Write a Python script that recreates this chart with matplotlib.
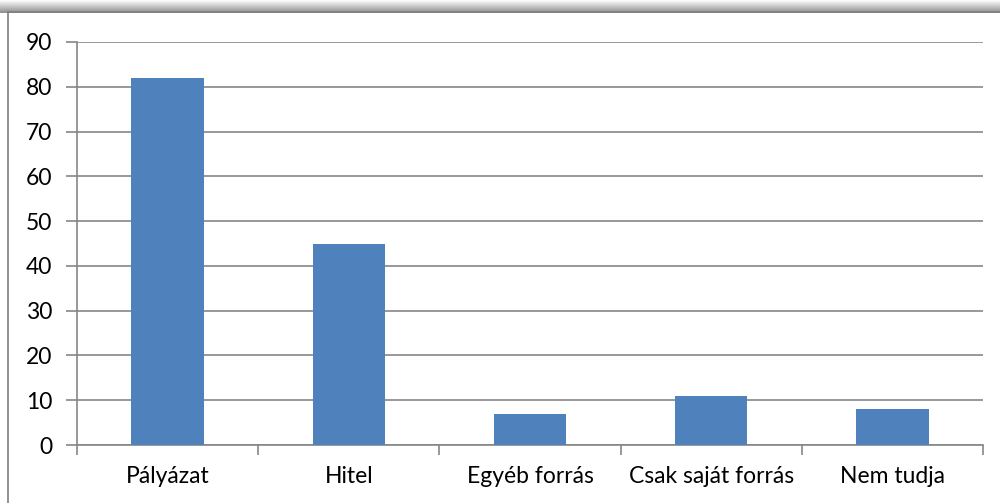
import numpy as np
import matplotlib.pyplot as plt
from matplotlib.lines import Line2D

categories = ["Pályázat", "Hitel", "Egyéb forrás", "Csak saját forrás", "Nem tudja"]
values = [82, 45, 7, 11, 8]
y_ticks = [0, 10, 20, 30, 40, 50, 60, 70, 80, 90]

plt.rcParams['font.family'] = ['Lato', 'DejaVu Sans']

grid_color = '#868686'
bar_color = '#4F81BD'

fig = plt.figure(figsize=(10, 5.03), dpi=100)

# shadow along the top of the chart frame
shadow = fig.add_axes([0, 1 - 13 / 503, 1, 13 / 503])
grad = np.linspace(1.0, 0.55, 64).reshape(-1, 1)
shadow.imshow(grad, cmap='gray', vmin=0, vmax=1, aspect='auto', extent=[0, 1, 0, 1])
shadow.axis('off')

# chart frame (top and left edges)
fig.add_artist(Line2D([8 / 1000, 8 / 1000], [0, 1 - 12 / 503], transform=fig.transFigure,
                      color='#7f7f7f', lw=1.2))
fig.add_artist(Line2D([8 / 1000, 1], [1 - 12 / 503, 1 - 12 / 503], transform=fig.transFigure,
                      color='#7f7f7f', lw=1.2))

ax = fig.add_axes([0.077, 58 / 503, 0.906, 403 / 503])
x = np.arange(len(categories))
ax.bar(x, values, width=0.4, color=bar_color, zorder=3)

ax.set_xlim(-0.5, len(categories) - 0.5)
ax.set_ylim(0, 90)
ax.set_yticks(y_ticks)
ax.yaxis.grid(True, color=grid_color, lw=1.2)
ax.set_axisbelow(True)

ax.set_xticks(x)
ax.set_xticklabels(categories)
ax.set_xticks(np.arange(-0.5, len(categories)), minor=True)
ax.tick_params(axis='x', which='major', length=0, pad=15, labelsize=16.5)
ax.tick_params(axis='x', which='minor', length=7, width=1.2, color=grid_color)
ax.tick_params(axis='y', length=8, width=1.2, color=grid_color, pad=10, labelsize=16.5)

for side in ['top', 'right']:
    ax.spines[side].set_visible(False)
for side in ['left', 'bottom']:
    ax.spines[side].set_color(grid_color)
    ax.spines[side].set_linewidth(1.2)

fig.savefig('out.png', dpi=100)
